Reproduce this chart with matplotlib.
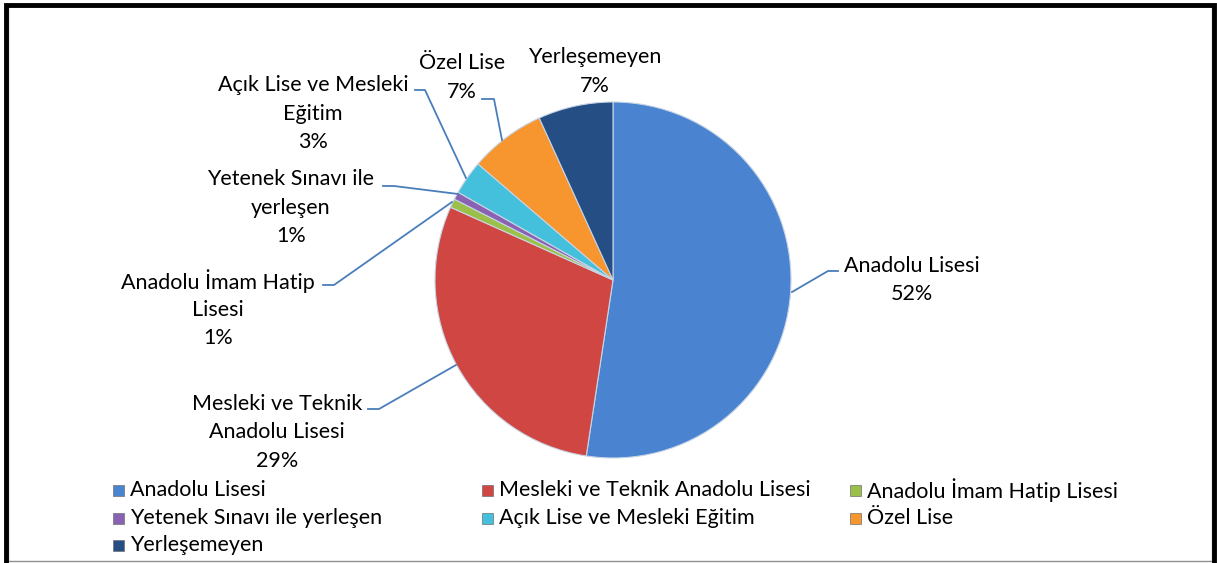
import matplotlib.pyplot as plt
from matplotlib.patches import Rectangle

plt.rcParams['font.family'] = ['Lato', 'DejaVu Sans']

labels = ['Anadolu Lisesi', 'Mesleki ve Teknik Anadolu Lisesi', 'Anadolu İmam Hatip Lisesi',
          'Yetenek Sınavı ile yerleşen', 'Açık Lise ve Mesleki Eğitim', 'Özel Lise', 'Yerleşemeyen']
values = [52.4, 29.3, 0.8, 0.7, 3.1, 6.9, 6.8]
colors = ['#4a84d0', '#d04642', '#9bc04a', '#8a62b4', '#45c0dc', '#f7952e', '#244e84']
# label text split over lines as in the original
label_lines = [['Anadolu Lisesi'], ['Mesleki ve Teknik', 'Anadolu Lisesi'], ['Anadolu İmam Hatip', 'Lisesi'],
               ['Yetenek Sınavı ile', 'yerleşen'], ['Açık Lise ve Mesleki', 'Eğitim'], ['Özel Lise'], ['Yerleşemeyen']]

W, H = 1217, 563
def Y(py):
    return H - py

fig = plt.figure(figsize=(W / 100, H / 100), dpi=100)
ax = fig.add_axes([0, 0, 1, 1])

ax.pie(values, colors=colors, startangle=90, counterclock=False,
       center=(613, Y(280)), radius=178,
       wedgeprops=dict(edgecolor='#c8d4e4', linewidth=0.8))

# label positions (center of first line) and leader lines, pixel coords
lab_pos = [(912, 266), (277, 404), (218, 281), (291, 179), (313, 85), (462, 63), (595, 57)]
leaders = [[(792, 292), (828, 271), (838, 271)],
           [(456, 365), (379, 409), (368, 409)],
           [(452, 202), (334, 285), (323, 285)],
           [(458, 194), (394, 186), (383, 186)],
           [(466, 178), (425, 90), (415, 90)],
           [(502, 140), (494, 99), (482, 99)],
           None]
line_h = 28.5
for i, v in enumerate(values):
    x0, y0 = lab_pos[i]
    lines = label_lines[i] + ['%d%%' % round(v)]
    for k, t in enumerate(lines):
        ax.text(x0, Y(y0 + k * line_h), t, ha='center', va='center', fontsize=15.5, color='black')
    if leaders[i]:
        xs = [p[0] for p in leaders[i]]
        ys = [Y(p[1]) for p in leaders[i]]
        ax.plot(xs, ys, color='#4a7ebb', lw=1.3)

# legend
col_x = [118, 487, 855]
row_y = [490, 518, 545]
for i, lab in enumerate(labels):
    cx = col_x[i % 3]
    cy = row_y[i // 3]
    ax.add_patch(Rectangle((cx - 5.5, Y(cy) - 5.5), 11, 11, facecolor=colors[i], edgecolor='#707070', lw=0.5))
    ax.text(cx + 12, Y(cy), lab, ha='left', va='center', fontsize=15.5, color='black')

# frame
ax.add_patch(Rectangle((8, Y(561)), 1204, 555, fill=False, edgecolor='#909090', lw=1))
ax.plot([6, 6, 1214, 1214], [0, Y(5), Y(5), 0], color='black', lw=3.5, solid_joinstyle='miter')

ax.set_xlim(0, W)
ax.set_ylim(0, H)
ax.set_aspect('auto')
ax.axis('off')

plt.savefig('out.png', dpi=100)
